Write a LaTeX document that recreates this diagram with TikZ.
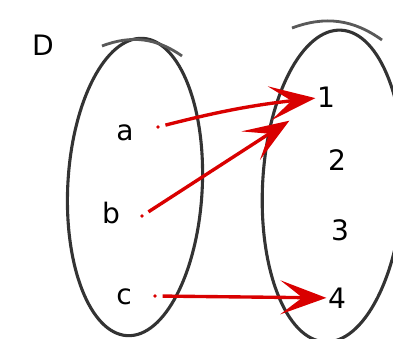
\documentclass[tikz,border=0pt]{standalone}
\usepackage{fontspec}
\setmainfont{DejaVu Sans}
\usetikzlibrary{arrows.meta,positioning}

\begin{document}
\begin{tikzpicture}[
  x=0.025cm, y=-0.025cm,
  set/.style={draw=black!80, line width=2.2pt},
  setedge/.style={draw=black!65, line width=2pt},
  elem/.style={font=\fontsize{20}{24}\selectfont, inner sep=1pt},
  dot/.style={circle, fill=red!85!black, inner sep=0pt, minimum size=2.5pt},
  mapto/.style={-{Stealth[length=1.15cm, width=0.85cm, inset=0.55cm]}, draw=red!85!black,
                line width=2.4pt, shorten <=4pt}
]
\useasboundingbox (0,0) rectangle (393,339);

% the two sets
\draw[set, rotate around={-3:(135,187)}] (135,187) ellipse [x radius=1.68cm, y radius=3.72cm];
\draw[set, rotate around={-3:(333,186)}] (333,186) ellipse [x radius=1.76cm, y radius=3.9cm];
\draw[setedge] (102,46) to[bend left=28] (182,56);
\draw[setedge] (292,28) to[bend left=28] (382,40);

% labels
\node[elem] (dom) at (43,45) {D};
\node[elem] (a) at (125,133) {a};
\node[elem] (b) at (111,213) {b};
\node[elem] (c) at (124,297) {c};
\node[elem] (n1) at (326,97) {1};
\node[elem] (n2) at (337,160) {2};
\node[elem] (n3) at (340,230) {3};
\node[elem] (n4) at (337,298) {4};

% points
\node[dot] (pa) at (158,127) {};
\node[dot] (pb) at (142,216) {};
\node[dot] (pc) at (155,296) {};

% mapping
\draw[mapto] (pa) to[bend left=4] (n1);
\draw[mapto, shorten >=22pt] (pb) -- (n1);
\draw[mapto] (pc) -- (n4);
\end{tikzpicture}
\end{document}
